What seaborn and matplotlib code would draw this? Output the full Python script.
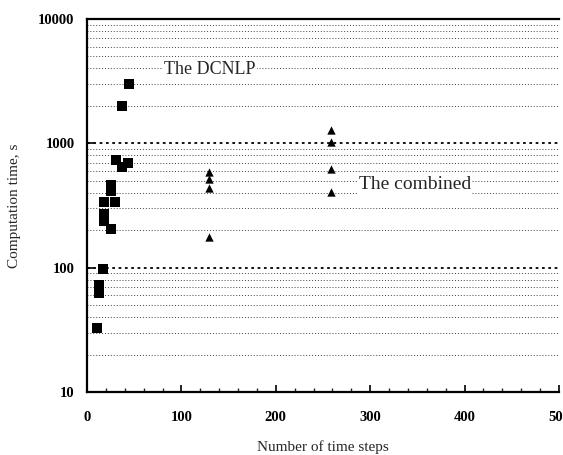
import numpy as np
import pandas as pd
import matplotlib
matplotlib.use("Agg")
import matplotlib.pyplot as plt
import seaborn as sns
from matplotlib.ticker import LogLocator, MultipleLocator, NullFormatter, FuncFormatter

# Data
dcnlp_steps = [44, 37, 31, 43, 37, 25, 25, 18, 30, 18, 18, 25, 17, 13, 13, 11]
dcnlp_time = [3000, 1980, 730, 700, 650, 460, 415, 340, 340, 268, 236, 203, 98, 72, 62, 33]

combined_steps = [129, 129, 129, 129, 259, 259, 259, 259]
combined_time = [590, 515, 441, 178, 1290, 1020, 617, 403]

sns.set_theme(style="white")
plt.rcParams['font.family'] = ['Liberation Serif', 'DejaVu Serif']

dcnlp = pd.DataFrame({'steps': dcnlp_steps, 'time': dcnlp_time})
combined = pd.DataFrame({'steps': combined_steps, 'time': combined_time})

fig = plt.figure(figsize=(5.63, 4.55), dpi=100)
ax = fig.add_axes([87 / 563, 1 - 392 / 455, (559 - 87) / 563, (392 - 19) / 455])

sns.scatterplot(data=dcnlp, x='steps', y='time', marker='s', s=42,
                color='black', edgecolor='black', linewidth=0, ax=ax, zorder=3)
sns.scatterplot(data=combined, x='steps', y='time', marker='^', s=36,
                color='black', edgecolor='black', linewidth=0, ax=ax, zorder=3)

ax.set_yscale('log')
ax.set_ylim(10, 10000)
ax.set_xlim(0, 500)

ax.xaxis.set_major_locator(MultipleLocator(100))
ax.xaxis.set_minor_locator(MultipleLocator(20))
ax.yaxis.set_major_locator(LogLocator(base=10))
ax.yaxis.set_minor_locator(LogLocator(base=10, subs=np.arange(2, 10)))
ax.yaxis.set_minor_formatter(NullFormatter())
ax.yaxis.set_major_formatter(FuncFormatter(lambda v, p: f"{int(v)}"))

ax.grid(which='major', axis='y', linestyle=(0, (1.5, 2)), linewidth=1.3, color='black')
ax.grid(which='minor', axis='y', linestyle=(0, (1, 2)), linewidth=0.7, color='0.25')
ax.grid(which='both', axis='x', visible=False)

ax.tick_params(axis='both', which='major', direction='in', length=5, width=1.2,
               labelsize=10.5, colors='black')
ax.tick_params(axis='x', which='major', pad=14)
ax.tick_params(axis='y', which='major', pad=9)
ax.tick_params(axis='both', which='minor', direction='in', length=3, width=1.0)
ax.tick_params(axis='y', which='minor', length=0)
ax.tick_params(left=True, bottom=True, which='both')
for lab in ax.get_xticklabels() + ax.get_yticklabels():
    lab.set_fontweight('bold')

for side in ['left', 'bottom', 'top']:
    ax.spines[side].set_linewidth(1.6)
    ax.spines[side].set_color('black')
ax.spines['right'].set_visible(False)

ax.set_xlabel('Number of time steps', fontsize=11)
ax.xaxis.set_label_coords(0.5, -0.128)
ax.set_ylabel('Computation time, s', fontsize=11, labelpad=12)

ax.text(82, 3900, 'The DCNLP', fontsize=13, ha='left', va='center',
        bbox=dict(facecolor='white', edgecolor='none', pad=1))
ax.text(288, 470, 'The combined', fontsize=14, ha='left', va='center',
        bbox=dict(facecolor='white', edgecolor='none', pad=1))

fig.savefig('out.png', dpi=100, facecolor='white')
